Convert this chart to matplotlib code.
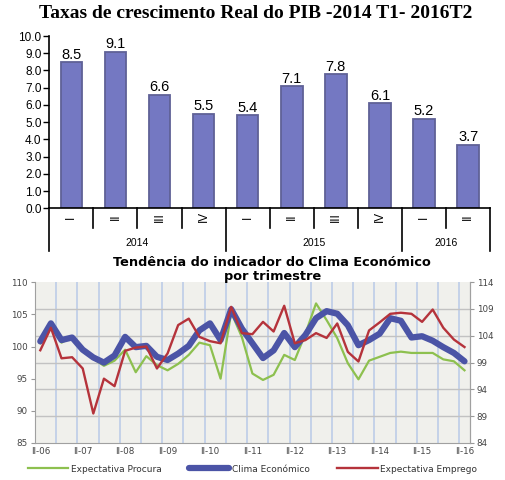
import numpy as np
import matplotlib
matplotlib.use("Agg")
import matplotlib.pyplot as plt
import matplotlib.transforms as mtransforms

# --- top chart: PIB growth by quarter ---
pib_quarters = ["I", "II", "III", "IV", "I", "II", "III", "IV", "I", "II"]
pib_years = ["2014", "2015", "2016"]
pib_year_span = [4, 4, 2]
pib_values = [8.5, 9.1, 6.6, 5.5, 5.4, 7.1, 7.8, 6.1, 5.2, 3.7]

# --- bottom chart: quarterly climate indicators (II-06 .. II-16) ---
trim_labels = ["II-06", "II-07", "II-08", "II-09", "II-10", "II-11",
               "II-12", "II-13", "II-14", "II-15", "II-16"]
procura = [100.5, 103.3, 100.6, 101.5, 99.4, 98.1, 97.0, 97.8, 99.5, 96.0,
           98.5, 97.1, 96.3, 97.3, 98.7, 100.6, 100.2, 95.0, 105.3, 101.5,
           95.8, 94.8, 95.6, 98.7, 97.9, 102.0, 106.7, 104.1, 101.3, 97.4,
           94.9, 97.8, 98.4, 99.0, 99.2, 99.0, 99.0, 99.0, 98.0, 97.7, 96.3]
clima = [100.8, 103.6, 101.0, 101.4, 99.5, 98.3, 97.5, 98.6, 101.5, 99.9,
         100.1, 98.4, 97.9, 98.9, 100.1, 102.5, 103.6, 101.0, 105.8, 102.8,
         100.5, 98.2, 99.4, 102.1, 99.9, 101.8, 104.4, 105.5, 105.1, 103.3,
         100.2, 101.0, 102.0, 104.4, 104.0, 101.4, 101.6, 100.9, 99.9, 99.0, 97.7]
emprego = [101.3, 105.5, 99.8, 100.0, 97.9, 89.5, 96.0, 94.6, 101.2, 101.8,
           102.0, 97.9, 100.7, 106.0, 107.2, 103.8, 103.0, 102.6, 109.4, 104.5,
           104.3, 106.6, 104.8, 109.6, 102.6, 103.2, 104.5, 103.6, 106.3, 101.0,
           99.2, 105.0, 106.5, 108.1, 108.3, 108.1, 106.6, 108.9, 105.5, 103.3, 101.9]

fig = plt.figure(figsize=(5.05, 4.8), dpi=100)

# ---------------- top ----------------
ax1 = fig.add_axes([0.0976, 0.566, 0.873, 0.359])
x = np.arange(len(pib_values))
ax1.bar(x, pib_values, width=0.49, color="#7478c2", edgecolor="#5f6196",
        linewidth=1.3, zorder=2)
for xi, v in zip(x, pib_values):
    ax1.text(xi, v + 0.02, f"{v:.1f}", ha="center", va="bottom",
             fontsize=10.5, family="Liberation Sans")
ax1.set_xlim(-0.5, len(pib_values) - 0.5)
ax1.set_ylim(0, 10)
ax1.set_yticks(np.arange(0, 11, 1))
ax1.set_yticklabels([f"{t:.1f}" for t in range(11)], fontsize=8.5,
                    family="Liberation Sans")
ax1.set_xticks([])
ax1.tick_params(axis="y", length=4, width=1, pad=1.5)
for s in ["top", "right"]:
    ax1.spines[s].set_visible(False)
ax1.spines["left"].set_linewidth(1.2)
ax1.spines["bottom"].set_linewidth(1.2)

trans = mtransforms.blended_transform_factory(ax1.transData, ax1.transAxes)
for xi, qn in zip(x, pib_quarters):
    ax1.text(xi, -0.05, qn, rotation=90, ha="center", va="center",
             fontsize=8.5, transform=trans, family="Liberation Sans")
year_edges = np.concatenate([[0], np.cumsum(pib_year_span)]) - 0.5
for k in np.arange(-0.5, len(pib_values), 1.0):
    low = -0.245 if k in year_edges else -0.116
    ax1.plot([k, k], [0, low], color="black", lw=1.2, transform=trans,
             clip_on=False)
for y0, y1, lab in zip(year_edges[:-1], year_edges[1:], pib_years):
    ax1.text((y0 + y1) / 2, -0.2, lab, ha="center", va="center", fontsize=7.5,
             transform=trans, family="Liberation Sans")

fig.text(0.507, 0.972, "Taxas de crescimento Real do PIB -2014 T1- 2016T2",
         ha="center", va="center", fontsize=14, fontweight="bold",
         family="Liberation Serif")

# ---------------- bottom ----------------
ax = fig.add_axes([0.0693, 0.0771, 0.861, 0.335])
ax.set_facecolor("#f0f0ec")
q = np.arange(len(clima))
l1, = ax.plot(q, procura, color="#8dc04f", lw=1.6, zorder=3,
              solid_joinstyle="round")
l2, = ax.plot(q, clima, color="#4b54a6", lw=4.5, zorder=4,
              solid_joinstyle="round", solid_capstyle="round")
ax.set_xlim(-0.5, len(clima) - 0.5)
ax.set_ylim(85, 110)
ax.set_yticks(np.arange(85, 111, 5))
ax.set_xticks(np.arange(0, len(clima), 4))
ax.set_xticklabels(trim_labels)
ax.set_xticks(np.arange(-0.5, len(clima) - 1, 2), minor=True)
ax.set_yticks(np.linspace(85, 110, 7), minor=True)
ax.grid(which="minor", axis="x", color="#b9c9e8", lw=1.1, zorder=0)
ax.grid(which="minor", axis="y", color="#c2c2c2", lw=1.0, zorder=0)
ax.tick_params(which="minor", length=0)
ax.tick_params(axis="x", which="major", length=0, pad=3, labelsize=6.3,
               labelcolor="#444444")
ax.tick_params(axis="y", which="major", length=3, color="#999999", pad=2,
               labelsize=6.3, labelcolor="#444444")
ax.spines["top"].set_visible(False)
for s in ["left", "bottom", "right"]:
    ax.spines[s].set_color("#a0a0a0")

ax2 = ax.twinx()
l3, = ax2.plot(q, emprego, color="#b5333b", lw=1.7, zorder=5,
               solid_joinstyle="round")
ax2.set_ylim(84, 114)
ax2.set_yticks(np.arange(84, 115, 5))
ax2.tick_params(axis="y", length=3, color="#999999", pad=2, labelsize=6.3,
                labelcolor="#444444")
for s in ["top", "left", "bottom"]:
    ax2.spines[s].set_visible(False)
ax2.spines["right"].set_color("#a0a0a0")

fig.text(0.539, 1 - 263 / 480, "Tendência do indicador do Clima Económico",
         ha="center", va="center", fontsize=9.3, fontweight="bold")
fig.text(0.539, 1 - 276.5 / 480, "por trimestre", ha="center", va="center",
         fontsize=9.3, fontweight="bold")

fig.legend([l1, l2, l3], ["Expectativa Procura", "Clima Económico",
                          "Expectativa Emprego"],
           loc="center", bbox_to_anchor=(0.5, 1 - 469 / 480), ncol=3,
           frameon=False, fontsize=6.5, handlelength=4.5, columnspacing=3,
           handletextpad=0.3, labelcolor="#333333")

fig.savefig("out.png", dpi=100)
